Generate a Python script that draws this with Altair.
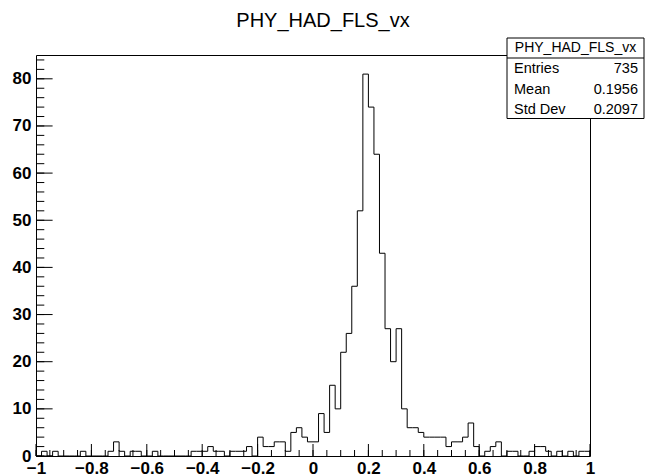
import altair as alt
import pandas as pd
import numpy as np

# ---- data (100 bins from -1 to 1) ----
counts = [
    0, 1, 0, 1, 0, 0, 0, 0, 1, 0,
    0, 0, 0, 1, 3, 1, 0, 1, 1, 0,
    0, 1, 0, 0, 0, 0, 0, 0, 1, 1,
    1, 2, 1, 1, 0, 1, 1, 1, 2, 0,
    4, 2, 2, 3, 3, 1, 5, 6, 4, 3,
    3, 9, 5, 15, 10, 22, 26, 36, 52, 81,
    74, 64, 43, 27, 20, 27, 10, 6, 6, 5,
    4, 4, 4, 4, 2, 3, 3, 4, 7, 2,
    0, 1, 2, 3, 0, 1, 1, 0, 0, 1,
    2, 2, 1, 0, 1, 0, 1, 0, 1, 1,
]
x_min, x_max, n_bins = -1.0, 1.0, 100
y_max = 85.05
x_tick_labels = [-1, -0.8, -0.6, -0.4, -0.2, 0, 0.2, 0.4, 0.6, 0.8, 1]
y_tick_labels = [0, 10, 20, 30, 40, 50, 60, 70, 80]
title_text = "PHY_HAD_FLS_vx"
stat_names = ["Entries", "Mean", "Std Dev"]
stat_values = ["735", "0.1956", "0.2097"]

W, H = 554, 401
FONT = "Liberation Sans"

edges = [x_min + (x_max - x_min) * i / n_bins for i in range(n_bins)]
hist = pd.DataFrame({"x": edges + [x_max], "y": counts + [0]})

xs = alt.Scale(domain=[x_min, x_max], nice=False, zero=False)
ys = alt.Scale(domain=[0, y_max], nice=False)

base_axis = dict(grid=False, ticks=False, domain=False, labelFont=FONT,
                 labelFontSize=17, labelFontWeight="bold", labelColor="black",
                 labelOverlap=False, labelFlush=False, title=None)

line = alt.Chart(hist).mark_line(interpolate="step-after", color="black",
                                 strokeWidth=1).encode(
    x=alt.X("x:Q", scale=xs, axis=alt.Axis(values=x_tick_labels, labelPadding=4,
                                            format="~g", **base_axis)),
    y=alt.Y("y:Q", scale=ys, axis=alt.Axis(values=y_tick_labels, labelPadding=5,
                                            format="d", **base_axis)),
)

# inward tick marks (ROOT style)
x_major = pd.DataFrame({"x": np.round(np.arange(-1, 1.0001, 0.2), 4)})
x_minor = pd.DataFrame({"x": np.round(np.arange(-1, 1.0001, 0.05), 4)})
y_major = pd.DataFrame({"y": np.arange(0, 81, 10)})
y_minor = pd.DataFrame({"y": np.arange(0, 85, 2)})

xmaj = alt.Chart(x_major).mark_rule(color="black", strokeWidth=1).encode(
    x=alt.X("x:Q", scale=xs), y=alt.value(H), y2=alt.value(H - 12))
xmin_ = alt.Chart(x_minor).mark_rule(color="black", strokeWidth=1).encode(
    x=alt.X("x:Q", scale=xs), y=alt.value(H), y2=alt.value(H - 6))
ymaj = alt.Chart(y_major).mark_rule(color="black", strokeWidth=1).encode(
    y=alt.Y("y:Q", scale=ys), x=alt.value(0), x2=alt.value(16.6))
ymin_ = alt.Chart(y_minor).mark_rule(color="black", strokeWidth=1).encode(
    y=alt.Y("y:Q", scale=ys), x=alt.value(0), x2=alt.value(8.3))

one = pd.DataFrame({"a": [0]})

# stats box
bx0, bx1, by0, by1 = 471, 608, -17, 63.5
box = alt.Chart(one).mark_rect(fill="white", stroke="black", strokeWidth=1).encode(
    x=alt.value(bx0), x2=alt.value(bx1), y=alt.value(by0), y2=alt.value(by1))
sep = alt.Chart(one).mark_rule(color="black", strokeWidth=1).encode(
    x=alt.value(bx0), x2=alt.value(bx1), y=alt.value(3))
header = alt.Chart(one).mark_text(font=FONT, fontSize=14, color="black",
                                  align="center", baseline="middle").encode(
    x=alt.value((bx0 + bx1) / 2), y=alt.value(-7), text=alt.value(title_text))

stat_layers = []
row_y = [14, 34.5, 54.5]
for name, val, ry in zip(stat_names, stat_values, row_y):
    stat_layers.append(alt.Chart(one).mark_text(font=FONT, fontSize=14.5, color="black",
                                                align="left", baseline="middle").encode(
        x=alt.value(bx0 + 7), y=alt.value(ry), text=alt.value(name)))
    stat_layers.append(alt.Chart(one).mark_text(font=FONT, fontSize=14.5, color="black",
                                                align="right", baseline="middle").encode(
        x=alt.value(bx1 - 6), y=alt.value(ry), text=alt.value(val)))

title = alt.Chart(one).mark_text(font=FONT, fontSize=20, color="black",
                                 align="center", baseline="middle").encode(
    x=alt.value(287), y=alt.value(-34), text=alt.value(title_text))

chart = alt.layer(line, xmaj, xmin_, ymaj, ymin_, box, sep, header, *stat_layers, title).properties(
    width=W, height=H,
    autosize=alt.AutoSizeParams(type="none"),
    padding={"left": 36, "top": 55, "right": 56, "bottom": 20},
    background="white",
).configure_view(stroke="black", strokeWidth=1)

chart.save("out.html", embed_options={"renderer": "svg", "actions": False})
